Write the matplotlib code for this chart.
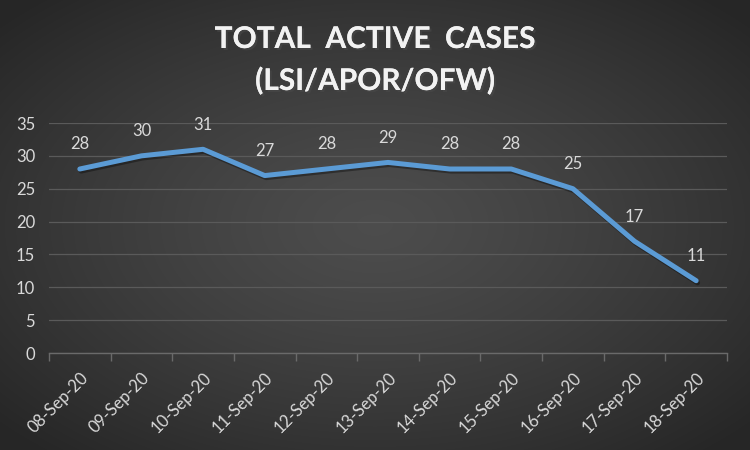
import numpy as np
import matplotlib
matplotlib.use("Agg")
import matplotlib.pyplot as plt
import matplotlib.patheffects as pe

dates = ["08-Sep-20", "09-Sep-20", "10-Sep-20", "11-Sep-20", "12-Sep-20", "13-Sep-20",
         "14-Sep-20", "15-Sep-20", "16-Sep-20", "17-Sep-20", "18-Sep-20"]
cases = [28, 30, 31, 27, 28, 29, 28, 28, 25, 17, 11]
yticks = [0, 5, 10, 15, 20, 25, 30, 35]
title_lines = ["TOTAL  ACTIVE  CASES", "(LSI/APOR/OFW)"]

plt.rcParams['font.family'] = ['Lato', 'DejaVu Sans']

fig = plt.figure(figsize=(7.5, 4.5), dpi=100)

# radial gradient background
bg = fig.add_axes([0, 0, 1, 1])
gx, gy = np.meshgrid(np.linspace(-1, 1, 750), np.linspace(-1, 1, 450))
r = np.sqrt(gx ** 2 + gy ** 2)
r = np.clip(r / 1.35, 0, 1)
val = 0.30 - 0.15 * r ** 1.3
img = np.dstack([val, val, val])
bg.imshow(img, aspect='auto', extent=[0, 1, 0, 1], origin='lower')
bg.axis('off')

ax = fig.add_axes([49 / 750, (450 - 353) / 450, (727 - 49) / 750, (353 - 123) / 450])
ax.patch.set_alpha(0)
x = np.arange(len(dates))
ax.plot(x, cases, color='#5B9BD5', lw=3.6, solid_capstyle='round', solid_joinstyle='round',
        path_effects=[pe.SimpleLineShadow(offset=(1, -1.5), shadow_color='black', alpha=0.35),
                      pe.Normal()])
for xi, v in zip(x, cases):
    ax.annotate(str(v), (xi, v), xytext=(0, 12), textcoords='offset points',
                ha='center', va='bottom', color='#d9d9d9', fontsize=12)

ax.set_xlim(-0.5, len(dates) - 0.5)
ax.set_ylim(0, 35)
ax.set_yticks(yticks)
ax.set_yticklabels([str(t) for t in yticks], color='#d9d9d9', fontsize=12)
ax.set_xticks(np.arange(len(dates) + 1) - 0.5, minor=False)
ax.set_xticklabels([])
ax.set_xticks(x, minor=True)
ax.set_xticklabels(dates, minor=True, rotation=45, ha='right', rotation_mode='anchor',
                   color='#d9d9d9', fontsize=12)
ax.tick_params(axis='x', which='major', length=6, color='#6a6a6a', width=1, direction='out')
ax.tick_params(axis='x', which='minor', length=0, pad=12)
ax.tick_params(axis='y', length=0, pad=10)
ax.grid(axis='y', color='#5a5a5a', lw=0.9)
ax.set_axisbelow(True)
for s in ['top', 'right', 'left']:
    ax.spines[s].set_visible(False)
ax.spines['bottom'].set_color('#6a6a6a')
ax.spines['bottom'].set_linewidth(1)

for line, yb in zip(title_lines, [1 - 48 / 450, 1 - 90 / 450]):
    fig.text(0.5, yb, line, ha='center', va='baseline', color='#f2f2f2',
             fontsize=21.5, fontweight='bold',
             path_effects=[pe.withSimplePatchShadow(offset=(1.5, -1.5), alpha=0.6), pe.Normal()])

fig.savefig("out.png", dpi=100)
